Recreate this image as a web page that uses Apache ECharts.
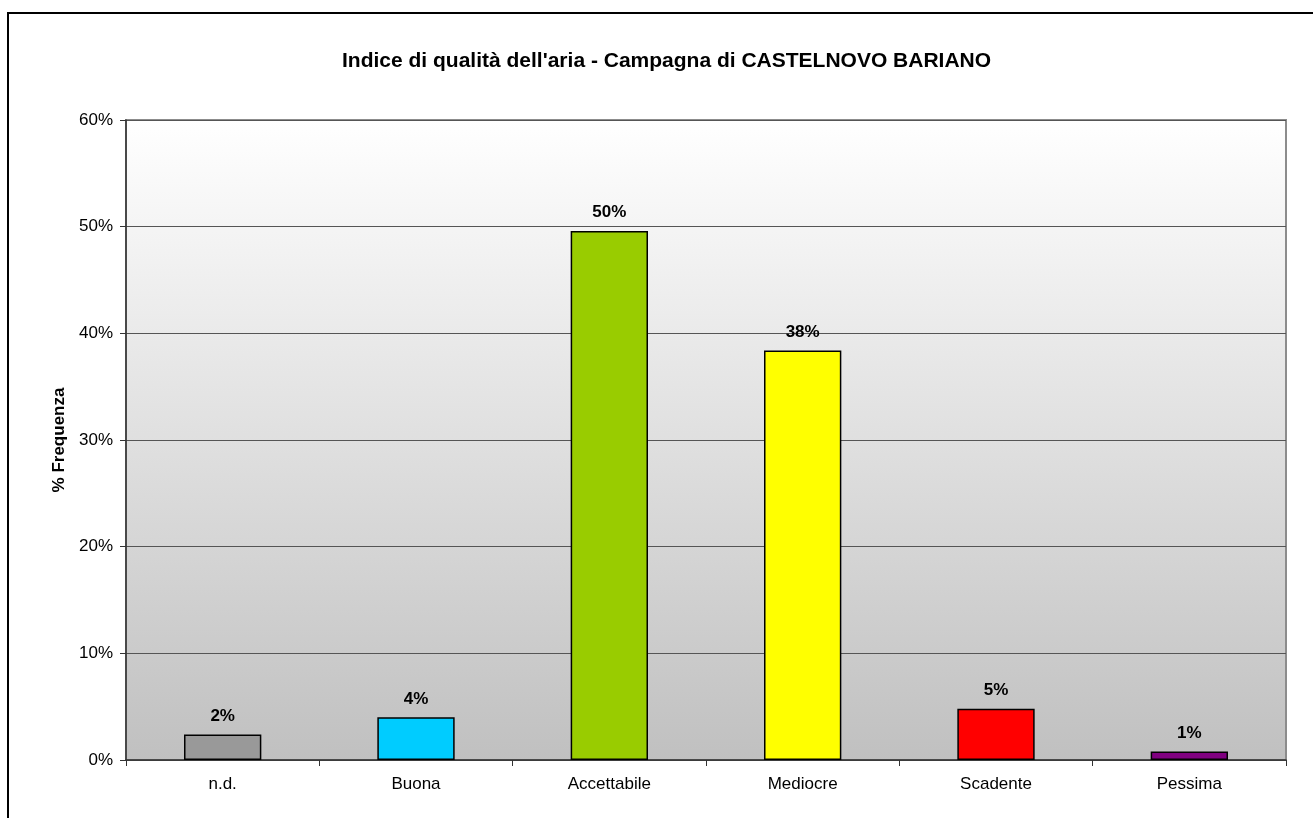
<!DOCTYPE html>
<html><head><meta charset="utf-8">
<script src="https://cdn.jsdelivr.net/npm/echarts@6/dist/echarts.min.js"></script>
<style>html,body{margin:0;padding:0;background:#fff}#c{width:1313px;height:818px}</style>
</head><body><div id="c"></div>
<script>
const categories = ['n.d.', 'Buona', 'Accettabile', 'Mediocre', 'Scadente', 'Pessima'];
const values = [2.4, 4.0, 49.6, 38.4, 4.8, 0.8];
const barColors = ['#999999', '#00ccff', '#99cc00', '#ffff00', '#ff0000', '#800080'];
const yTicks = [0, 10, 20, 30, 40, 50, 60];

const chart = echarts.init(document.getElementById('c'));
chart.setOption({
  animation: false,
  backgroundColor: '#fff',
  title: {
    text: "Indice di qualità dell'aria - Campagna di CASTELNOVO BARIANO",
    left: 337, top: 46,
    textStyle: {fontFamily: 'Liberation Sans', fontSize: 21, fontWeight: 'bold', color: '#000'}
  },
  graphic: [{
    type: 'rect', shape: {x: 8, y: 13, width: 1320, height: 820},
    style: {fill: 'none', stroke: '#000', lineWidth: 2}, silent: true
  }],
  grid: {
    left: 126, right: 27, top: 120, bottom: 58,
    show: true, borderColor: '#8c8c8c', borderWidth: 2,
    backgroundColor: {type: 'linear', x: 0, y: 0, x2: 0, y2: 1,
      colorStops: [{offset: 0, color: '#ffffff'}, {offset: 1, color: '#c0c0c0'}]}
  },
  xAxis: {
    type: 'category', data: categories,
    axisLine: {lineStyle: {color: '#333', width: 1.5}},
    axisTick: {show: true, length: 6, lineStyle: {color: '#333'}},
    axisLabel: {fontFamily: 'Liberation Sans', fontSize: 17, color: '#000', margin: 16}
  },
  yAxis: {
    type: 'value', min: 0, max: 60, interval: 10,
    name: '% Frequenza', nameLocation: 'middle', nameGap: 56, nameRotate: 90,
    nameTextStyle: {fontFamily: 'Liberation Sans', fontSize: 17, fontWeight: 'bold', color: '#000'},
    axisLine: {show: true, lineStyle: {color: '#333', width: 1.5}},
    axisTick: {show: true, length: 6, lineStyle: {color: '#333'}},
    splitLine: {lineStyle: {color: '#555', width: 1}},
    axisLabel: {fontFamily: 'Liberation Sans', fontSize: 17, color: '#000', margin: 13,
      formatter: v => yTicks.includes(v) ? v + '%' : ''}
  },
  series: [{
    type: 'bar', barWidth: '40%',
    data: values.map((v, i) => ({value: v, itemStyle: {color: barColors[i]}})),
    itemStyle: {borderColor: '#000', borderWidth: 1.5},
    label: {show: true, position: 'top', distance: 10,
      fontFamily: 'Liberation Sans', fontSize: 17, fontWeight: 'bold', color: '#000',
      formatter: p => Math.round(p.value) + '%'}
  }]
});
</script></body></html>
